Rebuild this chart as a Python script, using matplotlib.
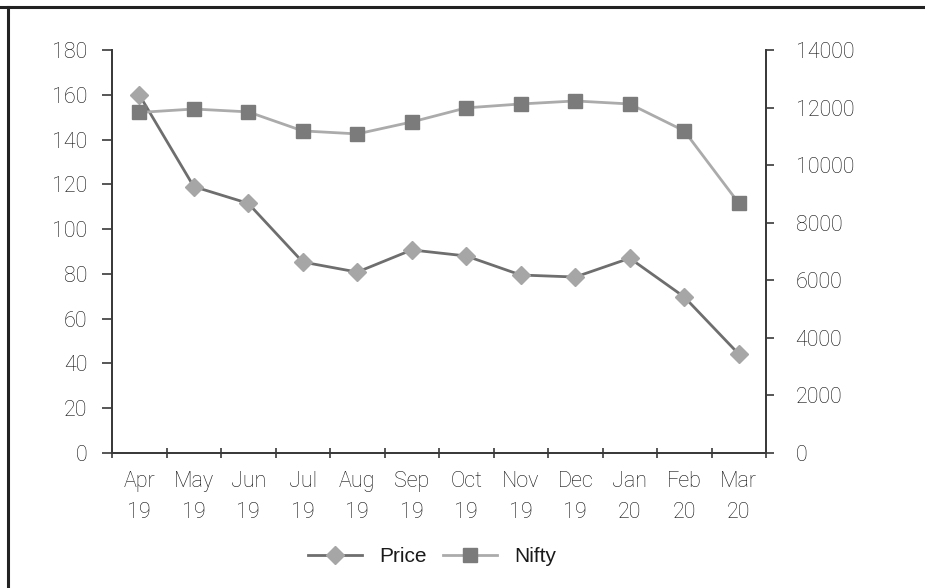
import matplotlib
matplotlib.use("Agg")
import matplotlib.pyplot as plt
from matplotlib.lines import Line2D
import numpy as np

months = ["Apr\n19", "May\n19", "Jun\n19", "Jul\n19", "Aug\n19", "Sep\n19",
          "Oct\n19", "Nov\n19", "Dec\n19", "Jan\n20", "Feb\n20", "Mar\n20"]
price = [160, 119, 111.5, 85.3, 80.8, 90.7, 88, 79.5, 78.6, 87, 69.7, 44.2]
nifty = [11830, 11950, 11850, 11190, 11085, 11500, 11990, 12125, 12230, 12125, 11190, 8680]
left_ticks = [0, 20, 40, 60, 80, 100, 120, 140, 160, 180]
right_ticks = [0, 2000, 4000, 6000, 8000, 10000, 12000, 14000]

W, H = 925, 588
fig = plt.figure(figsize=(W / 100, H / 100), dpi=100)
txt = "#111111"
spine_c = "#3a3a3a"

ax = fig.add_axes([112 / W, 1 - 453 / H, (766 - 112) / W, (453 - 50) / H])
ax2 = ax.twinx()

x = np.arange(len(months))
ax.plot(x, price, color="#6e6e6e", lw=2.0, marker="D", ms=9.5,
        markerfacecolor="#a6a6a6", markeredgecolor="#a6a6a6", zorder=3, label="Price")
ax2.plot(x, nifty, color="#ababab", lw=2.0, marker="s", ms=9.5,
         markerfacecolor="#7b7b7b", markeredgecolor="#7b7b7b", zorder=3, label="Nifty")

ax.set_xlim(-0.5, len(months) - 0.5)
ax.set_ylim(0, 180)
ax2.set_ylim(0, 14000)
ax.set_yticks(left_ticks)
ax2.set_yticks(right_ticks)

ax.set_xticks(x)
ax.set_xticklabels(months, linespacing=1.6)
ax.set_xticks(np.arange(-0.5, len(months), 1.0), minor=True)
ax.tick_params(axis="x", which="major", length=0, pad=13, labelsize=15.5, labelcolor=txt)
ax.tick_params(axis="x", which="minor", direction="inout", length=7.5, width=1.2, color=spine_c)
ax.tick_params(axis="y", direction="out", length=7.2, width=1.2, color=spine_c,
               labelsize=15.5, labelcolor=txt, pad=10.5)
ax2.tick_params(axis="y", direction="out", length=5.8, width=1.2, color=spine_c,
                labelsize=15.5, labelcolor=txt, pad=15.5)

for a in (ax, ax2):
    a.spines["top"].set_visible(False)
    for s in ("left", "right", "bottom"):
        a.spines[s].set_color(spine_c)
        a.spines[s].set_linewidth(1.3)

for lab in ax.get_xticklabels() + ax.get_yticklabels() + ax2.get_yticklabels():
    lab.set_fontfamily("Roboto")
    lab.set_fontweight("light")

h1, l1 = ax.get_legend_handles_labels()
h2, l2 = ax2.get_legend_handles_labels()
leg = fig.legend(h1 + h2, l1 + l2, loc="center", bbox_to_anchor=(432 / W, 1 - 557 / H),
                 ncol=2, frameon=False, prop={"family": "Liberation Sans", "size": 15},
                 handlelength=2.6, columnspacing=0.8, handletextpad=0.8)
for t in leg.get_texts():
    t.set_color("#1a1a1a")

fig.add_artist(Line2D([0, 1], [1 - 7 / H, 1 - 7 / H], transform=fig.transFigure,
                      color="#222222", lw=2.2))
fig.add_artist(Line2D([8 / W, 8 / W], [0, 1 - 7 / H], transform=fig.transFigure,
                      color="#222222", lw=2.2))

fig.savefig("out.png", dpi=100)
